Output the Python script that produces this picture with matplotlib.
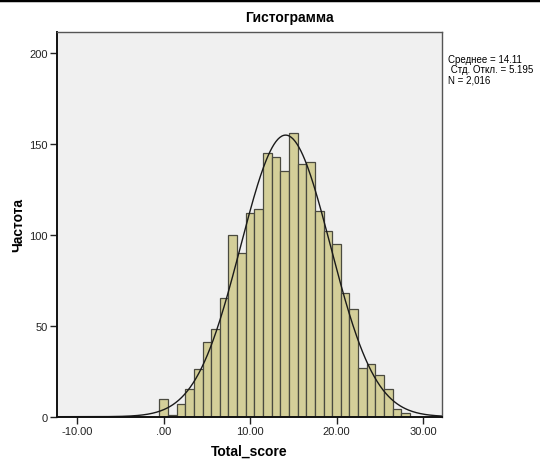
"""SPSS-style histogram of Total_score with a fitted normal curve."""
import matplotlib

matplotlib.use("Agg")
import matplotlib.pyplot as plt
import numpy as np
from matplotlib.lines import Line2D
from matplotlib.ticker import FuncFormatter

plt.rcParams["font.family"] = ["Liberation Sans", "DejaVu Sans"]

# score bins (integer scores) and their counts
scores = list(range(0, 29))
freq = [10, 1, 7, 15, 26, 41, 48, 65, 100, 90, 112, 114, 145, 143, 135,
        156, 139, 140, 113, 102, 95, 68, 59, 27, 29, 23, 15, 4, 2]

mean = 14.11
sd = 5.195
n_total = 2016
stats_lines = ["Среднее = 14.11", " Стд. Откл. = 5.195", "N = 2,016"]

x_ticks = [-10, 0, 10, 20, 30]
y_ticks = [0, 50, 100, 150, 200]


def _fmt(v, _pos=None):
    s = f"{v:.2f}"
    if s.startswith("0."):
        s = s[1:]
    return s


W, H = 540, 460
fig = plt.figure(figsize=(W / 100, H / 100), dpi=100)
ax = fig.add_axes([57.3 / W, 1 - 417.7 / H, (441.5 - 57.3) / W, (417.7 - 33) / H])
ax.set_facecolor("#F0F0F0")

ax.bar(scores, freq, width=1.0, color="#D4CF99", edgecolor="#4A4A40", linewidth=0.9)

xs = np.linspace(-12.31, 32.15, 400)
pdf = n_total * np.exp(-0.5 * ((xs - mean) / sd) ** 2) / (sd * np.sqrt(2 * np.pi))
ax.plot(xs, pdf, color="#1A1A1A", linewidth=1.0)

ax.set_xlim(-12.31, 32.15)
ax.set_ylim(0, 211.5)
ax.set_xticks(x_ticks)
ax.set_yticks(y_ticks)
ax.xaxis.set_major_formatter(FuncFormatter(_fmt))
ax.tick_params(axis="both", direction="out", length=5, width=1, labelsize=8,
               colors="#222222", pad=2)
ax.tick_params(top=False, right=False)

for side in ("top", "right"):
    ax.spines[side].set_color("#555555")
    ax.spines[side].set_linewidth(1.0)
for side in ("left", "bottom"):
    ax.spines[side].set_color("#111111")
    ax.spines[side].set_linewidth(1.4)

# axis titles placed in figure pixels so nothing gets clipped
fig.text(249 / W, 1 - 452 / H, "Total_score", ha="center", va="center",
         fontsize=10, fontweight="bold")
fig.text(18 / W, 1 - 225 / H, "Частота", ha="center", va="center",
         rotation=90, fontsize=10, fontweight="bold")
fig.text(289 / W, 1 - 18 / H, "Гистограмма", ha="center", va="center",
         fontsize=10, fontweight="bold")
fig.text(448 / W, 1 - 55 / H, "\n".join(stats_lines), ha="left", va="top",
         fontsize=7, linespacing=1.05)

# thick rule along the top edge of the picture
fig.add_artist(Line2D([0, 1], [0.997, 0.997], transform=fig.transFigure,
                      color="black", linewidth=2.5))

fig.savefig("out.png", dpi=100)
plt.close(fig)
